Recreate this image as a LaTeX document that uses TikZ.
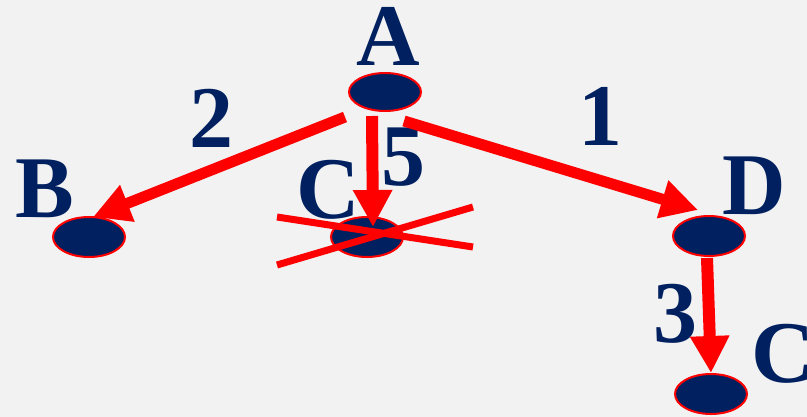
\documentclass[tikz,border=0pt]{standalone}
\usepackage{fontspec}
\setmainfont{Liberation Serif}
\usetikzlibrary{shapes.geometric,arrows.meta,calc}
\definecolor{navy}{RGB}{0,32,96}
\definecolor{bg}{RGB}{242,242,242}
\begin{document}
\begin{tikzpicture}[x=1pt,y=-1pt,
  vert/.style={ellipse,draw=red,line width=2pt,fill=navy,minimum width=72pt,minimum height=38pt,inner sep=0pt},
  lbl/.style={text=navy,inner sep=0pt,font=\fontsize{88}{88}\selectfont\bfseries},
  edge/.style={draw=red,line width=11pt,-{Triangle[width=37pt,length=37pt]}},
  cross/.style={draw=red,line width=7pt}]
\useasboundingbox (0,0) rectangle (807,417);
\fill[bg] (0,0) rectangle (807,417);
% labels
\node[lbl] (lA) at (388,36) {A};
\node[lbl] (lB) at (45,189) {B};
\node[lbl] (lC1) at (328,190) {C};
\node[lbl] (lD) at (754,186) {D};
\node[lbl] (lC2) at (783,354) {C};
\node[lbl] (n2) at (211,118) {2};
\node[lbl] (n1) at (600,116) {1};
\node[lbl] (n5) at (403,157) {5};
\node[lbl] (n3) at (675,314) {3};
% vertices
\node[vert] (A) at (385,92) {};
\node[vert,minimum height=40pt] (B) at (89,237) {};
\node[vert,minimum height=40pt] (C1) at (367,237) {};
\node[vert,minimum height=40pt] (D) at (709,236) {};
\node[vert,minimum height=40pt] (C2) at (711,394) {};
% edges
\draw[edge] ($(A)+(-40,25)$) -- ($(B)+(4,-20)$);
\draw[edge,line width=12pt] ($(A)+(-13,24)$) -- ($(C1)+(6,-10)$);
\draw[edge] ($(A)+(19,29)$) -- ($(D)+(-11,-26)$);
\draw[edge,line width=12pt] ($(D)+(-2,22)$) -- ($(C2)+(0,-21)$);
% cross-out
\draw[cross] ($(C1)+(-90,-20)$) -- ($(C1)+(106,10)$);
\draw[cross] ($(C1)+(-90,28)$) -- ($(C1)+(106,-30)$);
\end{tikzpicture}
\end{document}
